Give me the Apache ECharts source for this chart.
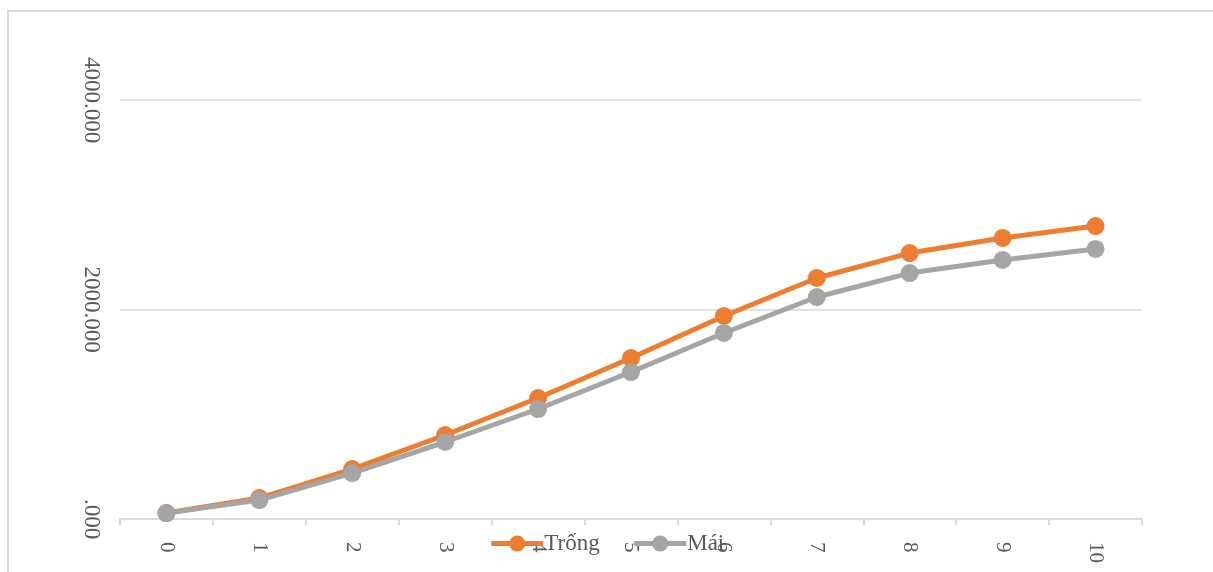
<!DOCTYPE html>
<html>
<head>
<meta charset="utf-8">
<script src="https://cdn.jsdelivr.net/npm/echarts@6/dist/echarts.min.js"></script>
<style>
  html, body { margin: 0; padding: 0; background: #fff; }
  #chart { width: 1213px; height: 572px; }
</style>
</head>
<body>
<div id="chart"></div>
<script>
// Categories along the x axis
const categories = ['0', '1', '2', '3', '4', '5', '6', '7', '8', '9', '10'];
// Series values
const trongValues = [57, 200, 477, 802, 1155, 1537, 1938, 2301, 2539, 2683, 2797];
const maiValues = [57, 181, 439, 735, 1050, 1403, 1776, 2119, 2348, 2473, 2578];
const seriesNames = ['Trống', 'Mái'];
// Y axis range
const yMin = 0, yMax = 4000, yStep = 2000;

const textColor = '#595959';
const font = '"Liberation Serif", "Times New Roman", serif';
const gridColor = '#D9D9D9';

const chart = echarts.init(document.getElementById('chart'), null, { renderer: 'canvas' });

chart.setOption({
  backgroundColor: '#fff',
  animation: false,
  graphic: [{
    type: 'rect',
    shape: { x: 8, y: 11, width: 1260, height: 620 },
    style: { fill: 'none', stroke: gridColor, lineWidth: 2 },
    z: -1
  }],
  grid: { left: 120, right: 71, top: 100, bottom: 53 },
  legend: {
    data: seriesNames,
    top: 527,
    left: 'center',
    itemWidth: 52,
    itemHeight: 20,
    itemGap: 32,
    lineStyle: { width: 5 },
    textStyle: { color: textColor, fontFamily: font, fontSize: 23, padding: [0, 0, 0, -4] }
  },
  xAxis: {
    type: 'category',
    data: categories,
    boundaryGap: true,
    axisLine: { lineStyle: { color: gridColor, width: 2 } },
    axisTick: { show: true, length: 6, lineStyle: { color: gridColor, width: 2 } },
    axisLabel: { rotate: -90, margin: 23, color: textColor, fontFamily: font, fontSize: 21 }
  },
  yAxis: {
    type: 'value',
    min: yMin, max: yMax, interval: yStep,
    axisLine: { show: false },
    axisTick: { show: false },
    splitLine: { lineStyle: { color: gridColor, width: 1.5 } },
    axisLabel: {
      rotate: -90,
      align: 'center',
      verticalAlign: 'middle',
      margin: 29,
      color: textColor, fontFamily: font, fontSize: 23,
      formatter: v => v === 0 ? '.000' : v.toFixed(3)
    }
  },
  series: [
    {
      name: seriesNames[0], type: 'line', data: trongValues,
      symbol: 'circle', symbolSize: 18,
      lineStyle: { color: '#ED7D31', width: 5 },
      itemStyle: { color: '#ED7D31' }
    },
    {
      name: seriesNames[1], type: 'line', data: maiValues,
      symbol: 'circle', symbolSize: 18,
      lineStyle: { color: '#A5A5A5', width: 5 },
      itemStyle: { color: '#A5A5A5' }
    }
  ]
});
</script>
</body>
</html>
